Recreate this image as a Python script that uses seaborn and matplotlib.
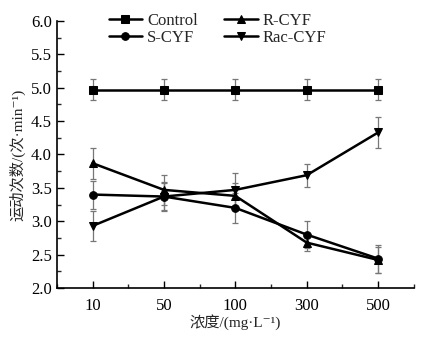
import numpy as np
import pandas as pd
import matplotlib
matplotlib.use('Agg')
import matplotlib.pyplot as plt
import seaborn as sns
from matplotlib.ticker import MultipleLocator

# data
conc = ['10', '50', '100', '300', '500']
series = ['Control', 'S-CYF', 'R-CYF', 'Rac-CYF']
control = [4.97, 4.97, 4.97, 4.97, 4.97]
control_err = [0.16, 0.16, 0.16, 0.16, 0.16]
s_cyf = [3.40, 3.37, 3.20, 2.80, 2.44]
s_cyf_err = [0.21, 0.20, 0.23, 0.20, 0.21]
r_cyf = [3.87, 3.47, 3.38, 2.68, 2.42]
r_cyf_err = [0.23, 0.22, 0.20, 0.13, 0.20]
rac_cyf = [2.93, 3.37, 3.47, 3.69, 4.33]
rac_cyf_err = [0.23, 0.22, 0.25, 0.17, 0.23]

vals = {'Control': control, 'S-CYF': s_cyf, 'R-CYF': r_cyf, 'Rac-CYF': rac_cyf}
errs = {'Control': control_err, 'S-CYF': s_cyf_err, 'R-CYF': r_cyf_err, 'Rac-CYF': rac_cyf_err}
markers = {'Control': 's', 'S-CYF': 'o', 'R-CYF': '^', 'Rac-CYF': 'v'}

rows = []
for s in series:
    for i, c in enumerate(conc):
        rows.append({'pos': i, 'conc': c, 'series': s, 'value': vals[s][i], 'err': errs[s][i]})
df = pd.DataFrame(rows)

sns.set_style('ticks')
plt.rcParams['font.family'] = ['Liberation Serif', 'Noto Sans CJK SC', 'DejaVu Serif']

fig = plt.figure(figsize=(4.37, 3.37), dpi=100)
ax = fig.add_axes([0.130, 0.1454, 0.817, 0.7923])

# error bars first (grey), then lines with markers on top
for s in series:
    d = df[df['series'] == s]
    ax.errorbar(d['pos'], d['value'], yerr=d['err'], fmt='none', ecolor='#777777',
                elinewidth=0.9, capsize=2.5, capthick=0.9, zorder=2)

sns.lineplot(data=df, x='pos', y='value', hue='series', style='series',
             hue_order=series, style_order=series,
             palette=['black'] * 4, markers=markers, dashes=False,
             linewidth=1.8, markersize=5.5, markeredgecolor='black',
             ax=ax, zorder=3)

ax.set_xlim(-0.5, 4.5)
ax.set_ylim(2.0, 6.0)
ax.set_xticks(range(len(conc)))
ax.set_xticklabels(conc)
ax.xaxis.set_minor_locator(MultipleLocator(1.0, offset=0.5))
ax.yaxis.set_major_locator(MultipleLocator(0.5))
ax.yaxis.set_minor_locator(MultipleLocator(0.25))
ax.tick_params(axis='both', which='major', direction='in', length=5, width=1,
               labelsize=12, colors='black')
ax.tick_params(axis='both', which='minor', direction='in', length=3, width=1)
ax.tick_params(axis='x', which='major', pad=7)

for side in ['top', 'right']:
    ax.spines[side].set_visible(False)
for side in ['left', 'bottom']:
    ax.spines[side].set_linewidth(1.2)
    ax.spines[side].set_color('black')

ax.set_xlabel('浓度/(mg·L⁻¹)', fontsize=11, labelpad=0)
ax.set_ylabel('运动次数/(次·min⁻¹)', fontsize=11, labelpad=4)

handles, labels = ax.get_legend_handles_labels()
ax.legend(handles, labels, ncol=2, loc='upper center', bbox_to_anchor=(0.45, 1.085),
          frameon=False, fontsize=12, handlelength=2.0, handletextpad=0.3,
          columnspacing=1.6, labelspacing=0.05)

fig.savefig('out.png', dpi=100)
